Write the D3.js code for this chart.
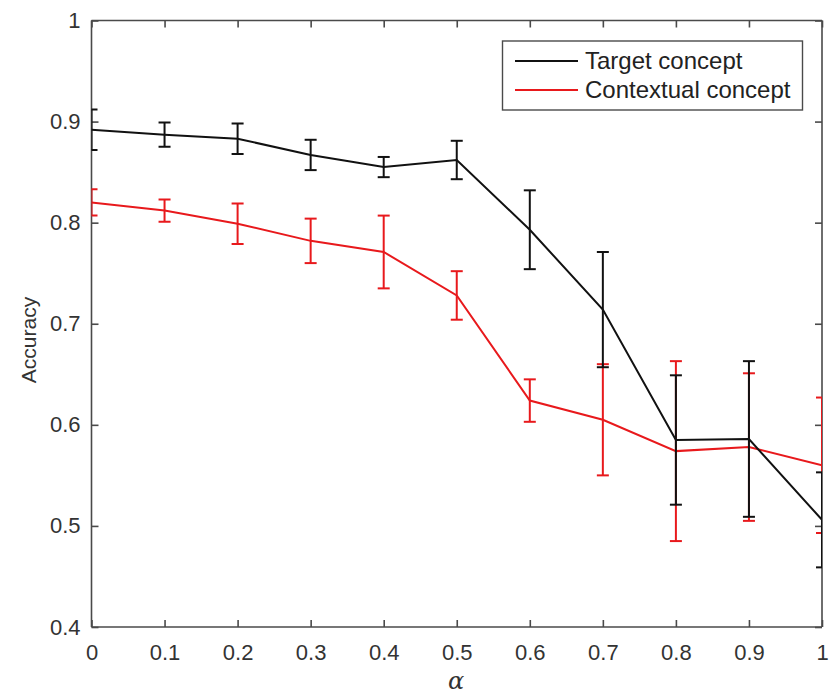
<!DOCTYPE html>
<html>
<head>
<meta charset="utf-8">
<script src="https://cdn.jsdelivr.net/npm/d3@7"></script>
<style>
  body { margin: 0; background: #fff; }
  svg { display: block; font-family: "Liberation Sans", Arial, sans-serif; }
</style>
</head>
<body>
<script>
// alpha values on x axis
const alphas = [0, 0.1, 0.2, 0.3, 0.4, 0.5, 0.6, 0.7, 0.8, 0.9, 1]

// Target concept: mean accuracy and error (half-width)
const targetMean = [0.892, 0.887, 0.883, 0.867, 0.855, 0.862, 0.793, 0.714, 0.585, 0.586, 0.506]
const targetErr  = [0.020, 0.012, 0.015, 0.015, 0.010, 0.019, 0.039, 0.057, 0.064, 0.077, 0.047]

// Contextual concept
const contextMean = [0.820, 0.812, 0.799, 0.782, 0.771, 0.728, 0.624, 0.605, 0.574, 0.578, 0.560]
const contextErr  = [0.013, 0.011, 0.020, 0.022, 0.036, 0.024, 0.021, 0.055, 0.089, 0.073, 0.067]

const xTicks = [0, 0.1, 0.2, 0.3, 0.4, 0.5, 0.6, 0.7, 0.8, 0.9, 1]
const yTicks = [0.4, 0.5, 0.6, 0.7, 0.8, 0.9, 1]
const seriesNames = ["Target concept", "Contextual concept"]

const w = 829
const h = 695
const pLeft = 91.5, pRight = 822, pTop = 20.5, pBottom = 627

const xScale = d3.scaleLinear().domain([0, 1]).range([pLeft, pRight])
const yScale = d3.scaleLinear().domain([0.4, 1]).range([pBottom, pTop])

const svg = d3.select("body")
              .append("svg")
              .attr("width", w)
              .attr("height", h)

svg.append("defs").append("clipPath")
   .attr("id", "plotclip")
   .append("rect")
   .attr("x", pLeft).attr("y", 0)
   .attr("width", pRight - pLeft).attr("height", h)

const axisColor = "#4a4a4a"
const labelColor = "#333"

// axes with inward ticks, box on all sides
const xAxis = d3.axisBottom(xScale).tickValues(xTicks).tickSize(-7).tickPadding(17)
                .tickFormat(d => d3.format("~g")(d))
const yAxis = d3.axisLeft(yScale).tickValues(yTicks).tickSize(-7).tickPadding(11)
                .tickFormat(d => d3.format("~g")(d))
const xTop = d3.axisTop(xScale).tickValues(xTicks).tickSize(-7).tickFormat("")
const yRight = d3.axisRight(yScale).tickValues(yTicks).tickSize(-7).tickFormat("")

function styleAxis(g) {
  g.selectAll("path.domain").attr("stroke", axisColor).attr("stroke-width", 1.6)
  g.selectAll(".tick line").attr("stroke", axisColor).attr("stroke-width", 1.6)
  g.selectAll(".tick text").attr("fill", labelColor).style("font-size", "22px")
}

svg.append("g").attr("transform", "translate(0," + pBottom + ")").call(xAxis).call(styleAxis)
   .selectAll("path.domain").attr("d", "M" + pLeft + ",0H" + pRight)
svg.append("g").attr("transform", "translate(" + pLeft + ",0)").call(yAxis).call(styleAxis)
   .selectAll("path.domain").attr("d", "M0," + pBottom + "V" + pTop)
svg.append("g").attr("transform", "translate(0," + pTop + ")").call(xTop).call(styleAxis)
   .selectAll("path.domain").attr("d", "M" + pLeft + ",0H" + pRight)
svg.append("g").attr("transform", "translate(" + pRight + ",0)").call(yRight).call(styleAxis)
   .selectAll("path.domain").attr("d", "M0," + pBottom + "V" + pTop)

// axis labels
svg.append("text")
   .attr("transform", "translate(36,340) rotate(-90)")
   .attr("text-anchor", "middle")
   .attr("fill", labelColor)
   .style("font-size", "21px")
   .text("Accuracy")

svg.append("text")
   .attr("x", 456)
   .attr("y", 689)
   .attr("text-anchor", "middle")
   .attr("fill", labelColor)
   .style("font-family", "'DejaVu Serif', 'Liberation Serif', serif")
   .style("font-style", "italic")
   .style("font-size", "24px")
   .text("α")

const plot = svg.append("g").attr("clip-path", "url(#plotclip)")

function drawSeries(means, errs, color) {
  const pts = alphas.map((a, i) => ({ a: a, m: means[i], e: errs[i] }))
  const capW = 6
  const bars = plot.append("g")
  pts.forEach(d => {
    const x = xScale(d.a)
    const y1 = yScale(d.m + d.e)
    const y2 = yScale(d.m - d.e)
    bars.append("line").attr("x1", x).attr("x2", x).attr("y1", y1).attr("y2", y2)
        .attr("stroke", color).attr("stroke-width", 2)
    bars.append("line").attr("x1", x - capW).attr("x2", x + capW).attr("y1", y1).attr("y2", y1)
        .attr("stroke", color).attr("stroke-width", 2)
    bars.append("line").attr("x1", x - capW).attr("x2", x + capW).attr("y1", y2).attr("y2", y2)
        .attr("stroke", color).attr("stroke-width", 2)
  })
  const line = d3.line().x(d => xScale(d.a)).y(d => yScale(d.m))
  plot.append("path")
      .datum(pts)
      .attr("d", line)
      .attr("fill", "none")
      .attr("stroke", color)
      .attr("stroke-width", 2)
}

drawSeries(contextMean, contextErr, "#e8191c")
drawSeries(targetMean, targetErr, "#111")

// legend
const legend = svg.append("g")
legend.append("rect")
      .attr("x", 502.5).attr("y", 41)
      .attr("width", 300).attr("height", 69)
      .attr("fill", "#fff")
      .attr("stroke", axisColor)
      .attr("stroke-width", 1.4)

const legendColors = ["#111", "#e8191c"]
seriesNames.forEach((name, i) => {
  const y = 61 + i * 29
  legend.append("line")
        .attr("x1", 515).attr("x2", 578)
        .attr("y1", y).attr("y2", y)
        .attr("stroke", legendColors[i]).attr("stroke-width", 2)
  legend.append("text")
        .attr("x", 585).attr("y", y + 8)
        .attr("fill", "#222")
        .style("font-size", "24px")
        .text(name)
})
</script>
</body>
</html>
